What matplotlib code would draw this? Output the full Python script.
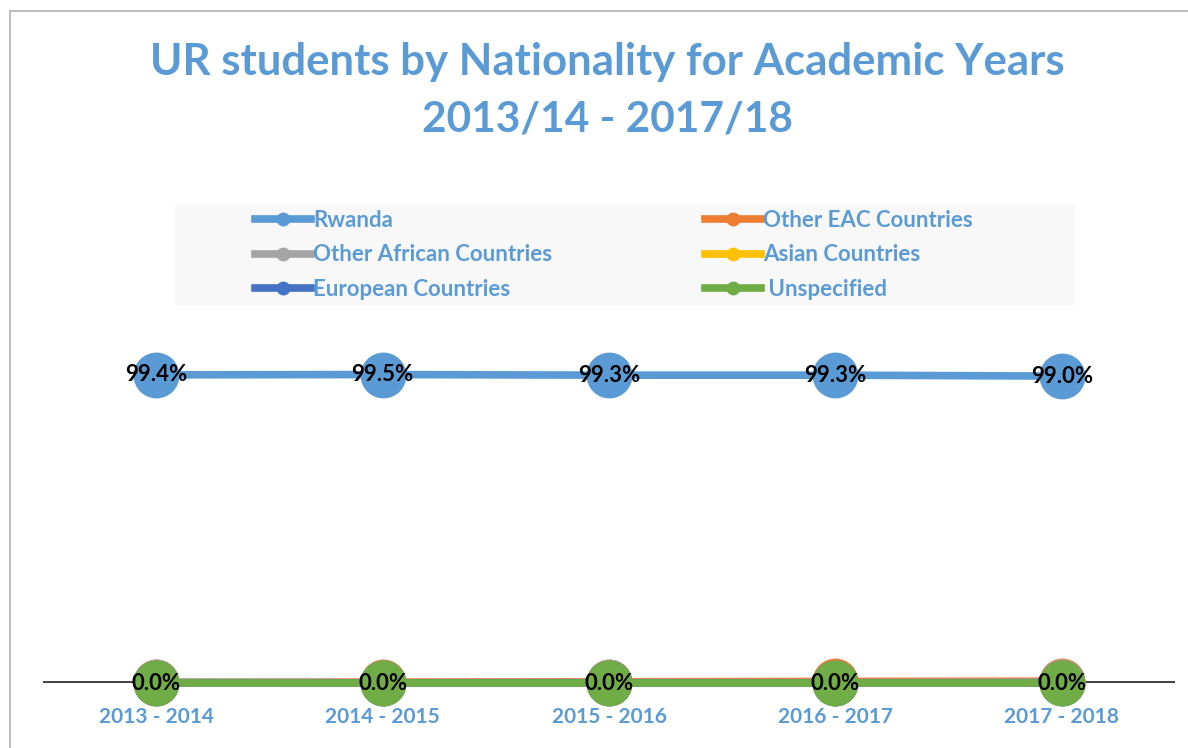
import matplotlib
matplotlib.use("Agg")
import matplotlib.pyplot as plt
from matplotlib.patches import Rectangle

years = ["2013 - 2014", "2014 - 2015", "2015 - 2016", "2016 - 2017", "2017 - 2018"]
rwanda = [99.4, 99.5, 99.3, 99.3, 99.0]
other_eac = [0.2, 0.3, 0.4, 0.5, 0.6]
other_african = [0.3, 0.1, 0.2, 0.1, 0.3]
asian = [0.05, 0.05, 0.05, 0.05, 0.05]
european = [0.02, 0.02, 0.02, 0.02, 0.03]
unspecified = [0.0, 0.0, 0.0, 0.0, 0.0]

series = [
    ("Rwanda", rwanda, "#5B9BD5"),
    ("Other EAC Countries", other_eac, "#ED7D31"),
    ("Other African Countries", other_african, "#A5A5A5"),
    ("Asian Countries", asian, "#FFC000"),
    ("European Countries", european, "#4472C4"),
    (" Unspecified", unspecified, "#70AD47"),
]

plt.rcParams['font.family'] = ['Lato', 'DejaVu Sans']
blue = "#5B9BD5"

fig = plt.figure(figsize=(11.88, 7.48), dpi=100)
W, H = 1188, 748

# chart border
fig.patches.append(Rectangle((10 / W, -0.1), 1.2, 1 - 11 / H + 0.1, transform=fig.transFigure,
                             fill=False, edgecolor="#BFBFBF", linewidth=1.5))
# legend background
fig.patches.append(Rectangle((175 / W, 1 - 305 / H), 900 / W, 101 / H, transform=fig.transFigure,
                             facecolor="#F8F8F8", edgecolor="none"))

ax = fig.add_axes([43 / W, 1 - 683 / H, 1132 / W, 372 / H])
ax.set_facecolor("none")
x = list(range(len(years)))

ax.axhline(0, color="#404040", linewidth=3.5, zorder=1)

handles = []
for i, (name, vals, col) in enumerate(series):
    ln, = ax.plot(x, vals, color=col, linewidth=5.5, marker="o", markersize=33,
                  markeredgewidth=0, label=name, zorder=2 + i, clip_on=False)
    handles.append(ln)

for xi, v in zip(x, rwanda):
    ax.text(xi, v, f"{v:.1f}%", ha="center", va="center", fontsize=16,
            fontweight="bold", color="black", zorder=20)
for xi, v in zip(x, unspecified):
    ax.text(xi, v, f"{v:.1f}%", ha="center", va="center", fontsize=16,
            fontweight="bold", color="black", zorder=20)

ax.set_xlim(-0.5, 4.5)
ax.set_ylim(0, 120)
ax.set_xticks(x)
ax.set_xticklabels(years, fontsize=15, fontweight="bold", color=blue)
ax.tick_params(axis="x", length=0, pad=17)
ax.set_yticks([])
for s in ax.spines.values():
    s.set_visible(False)
ax.patch.set_visible(False)

# legend entries, row-major in two columns
order = [0, 2, 4, 1, 3, 5]
leg_h = []
leg_l = []
for k in order:
    h = handles[k]
    leg_h.append(plt.Line2D([], [], color=h.get_color(), linewidth=5.5, marker="o",
                            markersize=10, markeredgewidth=0))
    leg_l.append(h.get_label())
leg = fig.legend(leg_h, leg_l, ncol=2, loc="upper left", bbox_to_anchor=(255 / W, 1 - 210 / H),
                 frameon=False, fontsize=16, handlelength=2.5, handletextpad=0.1,
                 columnspacing=6.9, labelspacing=0.6, borderpad=0, borderaxespad=0)
for t in leg.get_texts():
    t.set_color(blue)
    t.set_fontweight("bold")

fig.text(607 / W, 1 - 62 / H, "UR students by Nationality for Academic Years", ha="center",
         va="center", fontsize=31.5, fontweight="bold", color=blue)
fig.text(607 / W, 1 - 120 / H, "2013/14 - 2017/18", ha="center", va="center", fontsize=30.5,
         fontweight="bold", color=blue)

fig.savefig("out.png", dpi=100)
